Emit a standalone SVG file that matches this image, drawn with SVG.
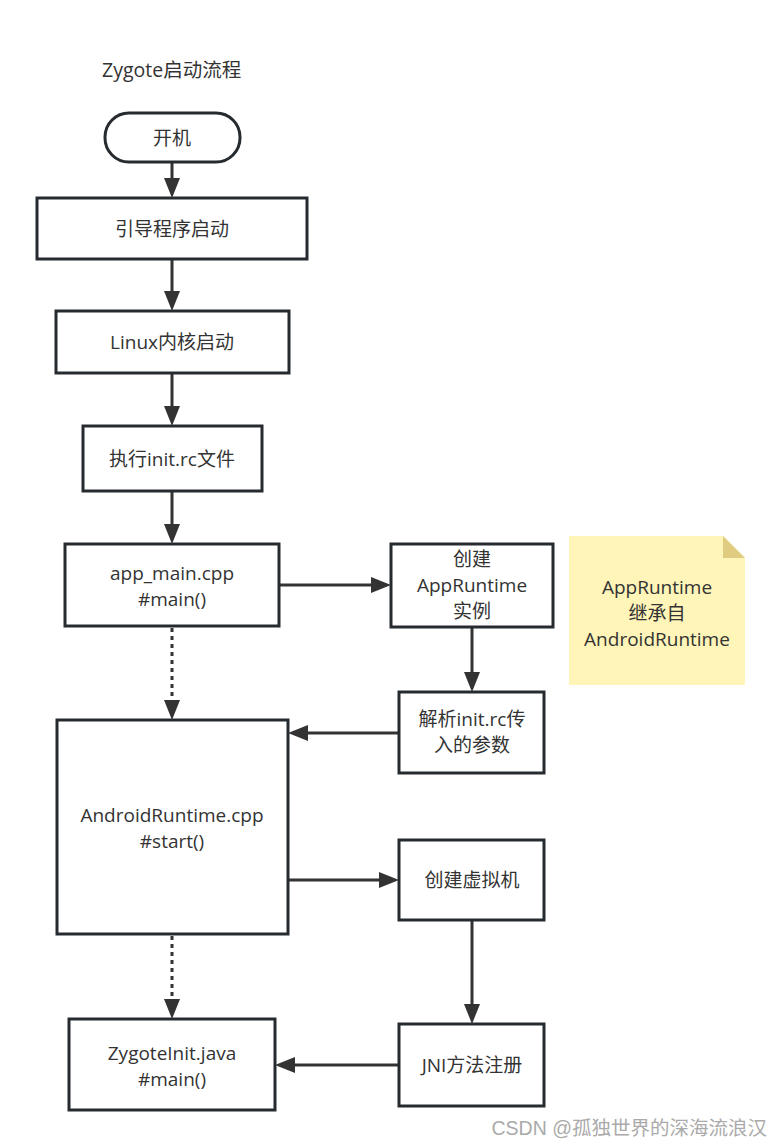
<svg xmlns="http://www.w3.org/2000/svg" width="784" height="1147" viewBox="0 0 784 1147">
<style>
.n{fill:#fff;stroke:#262b30;stroke-width:3}
.t{font-family:"Open Sans","Noto Sans CJK SC",sans-serif;font-size:19px;fill:#333;text-anchor:middle}
.c{stroke:#333;stroke-width:3;fill:none}
.d{stroke:#333;stroke-width:3;fill:none;stroke-dasharray:4 4}
.h{fill:#333}
</style>
<rect width="784" height="1147" fill="#fff"/>
<text x="102" y="77" font-family="Open Sans,Noto Sans CJK SC,sans-serif" font-size="19.5" fill="#333">Zygote启动流程</text>
<g id="connectors">
<path class="c" d="M172,162 V178"/><path class="h" d="M164,178 L180,178 L172,198 z"/>
<path class="c" d="M172,259 V291"/><path class="h" d="M164,291 L180,291 L172,311 z"/>
<path class="c" d="M172,373 V406"/><path class="h" d="M164,406 L180,406 L172,426 z"/>
<path class="c" d="M172,491 V524"/><path class="h" d="M164,524 L180,524 L172,544 z"/>
<path class="c" d="M279,585 H371"/><path class="h" d="M371,577 L371,593 L391,585 z"/>
<path class="c" d="M472,627 V672"/><path class="h" d="M464,672 L480,672 L472,692 z"/>
<path class="d" d="M172,628 V700"/><path class="h" d="M164,700 L180,700 L172,720 z"/>
<path class="c" d="M399,733 H308"/><path class="h" d="M308,725 L308,741 L288,733 z"/>
<path class="c" d="M288,880 H379"/><path class="h" d="M379,872 L379,888 L399,880 z"/>
<path class="c" d="M472,920 V1004"/><path class="h" d="M464,1004 L480,1004 L472,1024 z"/>
<path class="d" d="M172,936 V999"/><path class="h" d="M164,999 L180,999 L172,1019 z"/>
<path class="c" d="M399,1065 H295"/><path class="h" d="M295,1057 L295,1073 L275,1065 z"/>
</g>
<g id="n1"><rect class="n" x="105" y="113" width="135" height="49" rx="24"/><text class="t" x="172" y="145">开机</text></g>
<g id="n2"><rect class="n" x="37" y="198" width="270" height="61"/><text class="t" x="172" y="236">引导程序启动</text></g>
<g id="n3"><rect class="n" x="56" y="311" width="233" height="62"/><text class="t" x="172" y="349">Linux内核启动</text></g>
<g id="n4"><rect class="n" x="83" y="426" width="179" height="65"/><text class="t" x="172" y="466">执行init.rc文件</text></g>
<g id="n5"><rect class="n" x="65" y="544" width="214" height="82"/><text class="t" x="172" y="580">app_main.cpp<tspan x="172" dy="26">#main()</tspan></text></g>
<g id="n6"><rect class="n" x="391" y="544" width="162" height="83"/><text class="t" x="472" y="566">创建<tspan x="472" dy="26">AppRuntime</tspan><tspan x="472" dy="26">实例</tspan></text></g>
<g id="note"><path d="M569,536 H723 L745,558 V685 H569 z" fill="#fff5b8"/><path d="M723,536 L745,558 H723 z" fill="#e0cc80"/><text class="t" x="657" y="594">AppRuntime<tspan x="657" dy="26">继承自</tspan><tspan x="657" dy="26">AndroidRuntime</tspan></text></g>
<g id="n7"><rect class="n" x="399" y="692" width="145" height="81"/><text class="t" x="472" y="726">解析init.rc传<tspan x="472" dy="26">入的参数</tspan></text></g>
<g id="n8"><rect class="n" x="57" y="720" width="231" height="214"/><text class="t" x="172" y="822">AndroidRuntime.cpp<tspan x="172" dy="26">#start()</tspan></text></g>
<g id="n9"><rect class="n" x="399" y="840" width="145" height="80"/><text class="t" x="472" y="887">创建虚拟机</text></g>
<g id="n10"><rect class="n" x="399" y="1024" width="145" height="82"/><text class="t" x="472" y="1072">JNI方法注册</text></g>
<g id="n11"><rect class="n" x="69" y="1019" width="206" height="91"/><text class="t" x="172" y="1060">ZygoteInit.java<tspan x="172" dy="26">#main()</tspan></text></g>
<text x="767" y="1135" text-anchor="end" font-family="Liberation Sans,Noto Sans CJK SC,sans-serif" font-size="19.5" fill="#aaa">CSDN @孤独世界的深海流浪汉</text>
</svg>
